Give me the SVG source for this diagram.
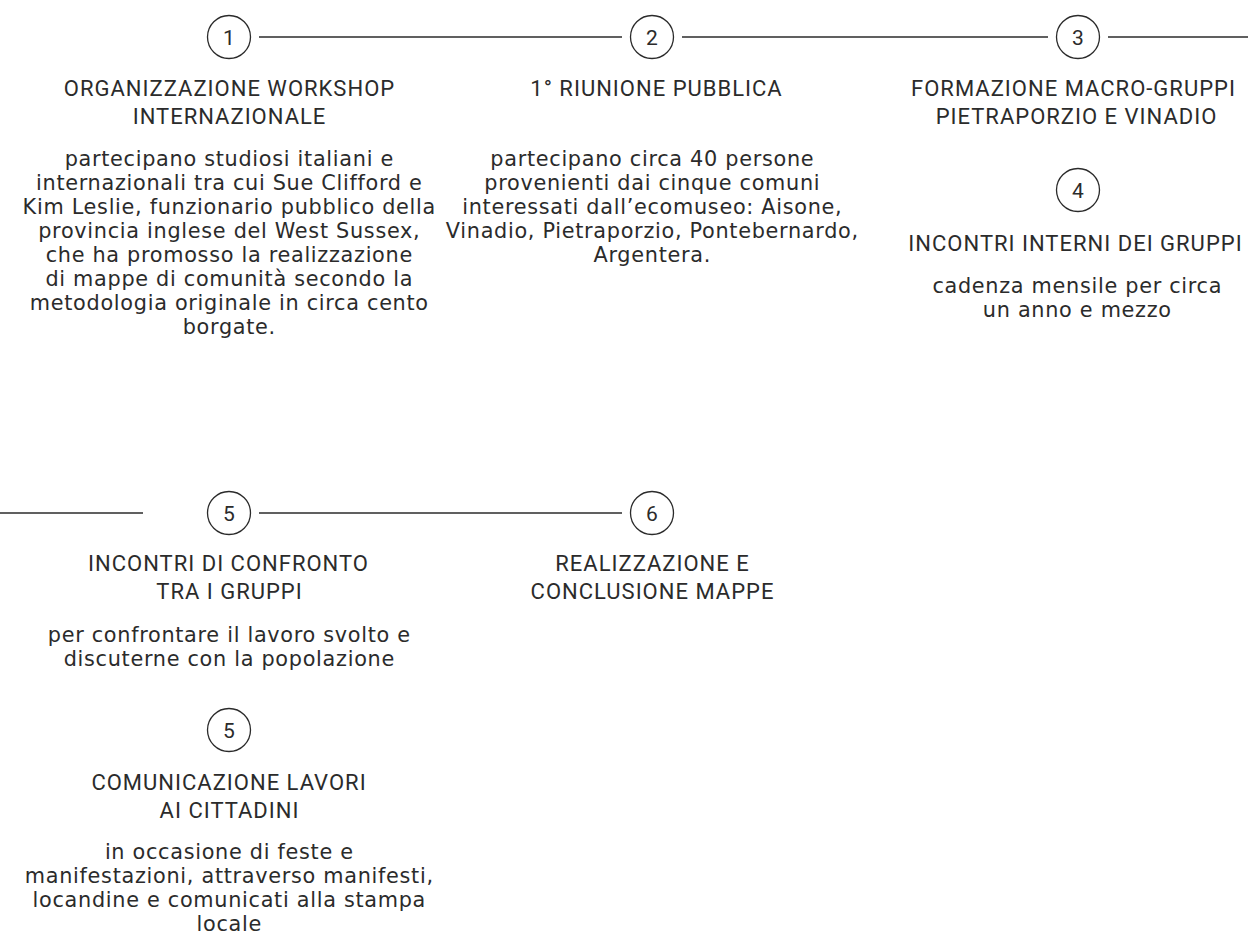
<svg xmlns="http://www.w3.org/2000/svg" width="1248" height="952" viewBox="0 0 1248 952">
<style>
.bg{fill:#ffffff}
.num{fill:none;stroke:#2b2b2b;stroke-width:1.3}
.conn{stroke:#2b2b2b;stroke-width:1.3;fill:none}
text{fill:#2b2b2b;text-anchor:middle}
.n{font-family:Roboto,"Liberation Sans",sans-serif;font-size:21px}
.t{font-family:Roboto,"Liberation Sans",sans-serif;font-size:22px;letter-spacing:1px}
.b{font-family:"DejaVu Sans","Liberation Sans",sans-serif;font-size:20.8px;letter-spacing:0.7px}
</style>
<rect class="bg" x="0" y="0" width="1248" height="952"/>
<g id="connectors">
<line class="conn" x1="259" y1="37" x2="622" y2="37"/>
<line class="conn" x1="682" y1="37" x2="1048" y2="37"/>
<line class="conn" x1="1108" y1="37" x2="1248" y2="37"/>
<line class="conn" x1="0" y1="513" x2="143" y2="513"/>
<line class="conn" x1="259" y1="513" x2="622" y2="513"/>
</g>
<g id="step1">
<circle class="num" cx="229" cy="37" r="21.5"/>
<text class="n" x="229" y="44.5">1</text>
<text class="t" x="229.5" y="96">ORGANIZZAZIONE WORKSHOP</text>
<text class="t" x="229.5" y="124">INTERNAZIONALE</text>
<text class="b" x="229.3" y="166">partecipano studiosi italiani e</text>
<text class="b" x="229.3" y="190">internazionali tra cui Sue Clifford e</text>
<text class="b" x="229.3" y="214">Kim Leslie, funzionario pubblico della</text>
<text class="b" x="229.3" y="238">provincia inglese del West Sussex,</text>
<text class="b" x="229.3" y="262">che ha promosso la realizzazione</text>
<text class="b" x="229.3" y="286">di mappe di comunità secondo la</text>
<text class="b" x="229.3" y="310">metodologia originale in circa cento</text>
<text class="b" x="229.3" y="334">borgate.</text>
</g>
<g id="step2">
<circle class="num" cx="652" cy="37" r="21.5"/>
<text class="n" x="652" y="44.5">2</text>
<text class="t" x="656.5" y="96">1° RIUNIONE PUBBLICA</text>
<text class="b" x="652.3" y="166">partecipano circa 40 persone</text>
<text class="b" x="652.3" y="190">provenienti dai cinque comuni</text>
<text class="b" x="652.3" y="214">interessati dall’ecomuseo: Aisone,</text>
<text class="b" x="652.3" y="238">Vinadio, Pietraporzio, Pontebernardo,</text>
<text class="b" x="652.3" y="262">Argentera.</text>
</g>
<g id="step3">
<circle class="num" cx="1078" cy="37" r="21.5"/>
<text class="n" x="1078" y="44.5">3</text>
<text class="t" x="1073.5" y="96">FORMAZIONE MACRO-GRUPPI</text>
<text class="t" x="1076.5" y="124">PIETRAPORZIO E VINADIO</text>
</g>
<g id="step4">
<circle class="num" cx="1078" cy="190" r="21.5"/>
<text class="n" x="1078" y="197.5">4</text>
<text class="t" x="1075.5" y="251">INCONTRI INTERNI DEI GRUPPI</text>
<text class="b" x="1077.3" y="293">cadenza mensile per circa</text>
<text class="b" x="1077.3" y="317">un anno e mezzo</text>
</g>
<g id="step5">
<circle class="num" cx="229" cy="513" r="21.5"/>
<text class="n" x="229" y="520.5">5</text>
<text class="t" x="228.5" y="571">INCONTRI DI CONFRONTO</text>
<text class="t" x="229.5" y="599">TRA I GRUPPI</text>
<text class="b" x="229.3" y="642">per confrontare il lavoro svolto e</text>
<text class="b" x="229.3" y="666">discuterne con la popolazione</text>
</g>
<g id="step6">
<circle class="num" cx="652" cy="513" r="21.5"/>
<text class="n" x="652" y="520.5">6</text>
<text class="t" x="652.5" y="571">REALIZZAZIONE E</text>
<text class="t" x="652.5" y="599">CONCLUSIONE MAPPE</text>
</g>
<g id="step5b">
<circle class="num" cx="229" cy="730" r="21.5"/>
<text class="n" x="229" y="737.5">5</text>
<text class="t" x="229" y="790">COMUNICAZIONE LAVORI</text>
<text class="t" x="229.5" y="818">AI CITTADINI</text>
<text class="b" x="229.3" y="859">in occasione di feste e</text>
<text class="b" x="229.3" y="883">manifestazioni, attraverso manifesti,</text>
<text class="b" x="229.3" y="907">locandine e comunicati alla stampa</text>
<text class="b" x="229.3" y="931">locale</text>
</g>
</svg>
